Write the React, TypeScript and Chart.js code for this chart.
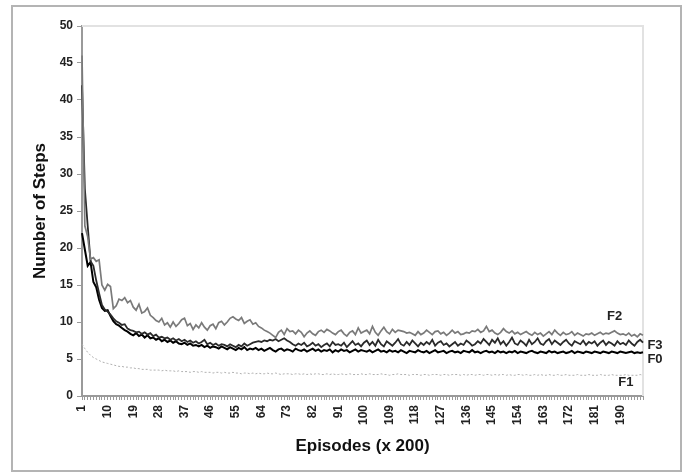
import React, { useEffect, useRef } from "react";
import { Chart, registerables } from "chart.js";

Chart.register(...registerables);

const categories: string[] = Array.from({ length: 198 }, (_, i) => String(i + 1));
const shownTickLabels: string[] = ["1", "10", "19", "28", "37", "46", "55", "64", "73", "82", "91", "100", "109", "118", "127", "136", "145", "154", "163", "172", "181", "190"];
const yTicks: number[] = [0, 5, 10, 15, 20, 25, 30, 35, 40, 45, 50];

const f0: number[] = [
  22, 19.8, 17.6, 18.1, 15.4, 14.7, 13.0, 11.9, 11.5, 11.6,
  10.8, 10.1, 9.7, 9.5, 9.2, 8.9, 8.7, 8.4, 8.2, 8.5,
  8.1, 8.3, 7.9, 8.2, 7.8, 7.9, 7.6, 7.8, 7.4, 7.6,
  7.3, 7.5, 7.2, 7.4, 7.1, 7.0, 7.2, 6.9, 7.1, 6.8,
  6.9, 6.7, 6.9, 6.6, 6.8, 6.5, 6.7, 6.6, 6.4, 6.7,
  6.5, 6.3, 6.6, 6.4, 6.2, 6.5, 6.3, 6.6, 6.2, 6.4,
  6.3, 6.5, 6.2, 6.4, 6.1, 6.3, 6.5, 6.2, 6.0, 6.3,
  6.4, 6.1, 6.3, 6.2, 6.0, 6.4, 6.2, 6.1, 6.3, 6.0,
  6.2, 6.4, 6.1, 6.3, 6.0, 6.2, 6.1, 6.3, 5.9, 6.2,
  6.0, 6.3, 6.1, 6.2, 5.9, 6.1, 6.3, 6.0, 6.2, 6.1,
  6.0, 6.2, 5.9, 6.1, 6.3, 6.0, 6.1, 5.9, 6.2, 6.0,
  6.1, 5.9, 6.2, 6.0, 5.8, 6.1, 6.0, 5.9, 6.2, 6.0,
  5.9, 6.1, 5.8, 6.0, 6.2, 5.9, 6.0, 6.1, 5.8, 6.0,
  6.1, 5.9, 6.0, 5.8, 6.1, 6.0, 5.9, 6.2, 5.9, 6.0,
  5.8, 6.0, 6.1, 5.9, 6.0, 5.8, 6.1, 5.9, 6.0, 5.8,
  6.0, 5.9, 6.1, 5.8, 6.0, 5.9, 5.8, 6.0, 6.1, 5.9,
  5.8, 6.0, 5.9, 5.8, 6.1, 5.9, 6.0, 5.8, 5.9, 6.0,
  5.8, 5.9, 6.1, 5.8, 6.0, 5.9, 5.8, 6.0, 5.9, 5.8,
  6.0, 5.9, 5.8, 6.0, 5.9, 5.8, 6.0, 5.9, 5.8, 6.0,
  5.9, 5.8, 5.9, 6.0, 5.8, 5.9, 5.8, 5.9,
];

const f1: number[] = [
  7.0, 6.4, 5.9, 5.5, 5.2, 5.0, 4.8, 4.6, 4.5, 4.4,
  4.3, 4.2, 4.1, 4.0, 4.0, 3.9, 3.9, 3.8, 3.8, 3.7,
  3.7, 3.6, 3.6, 3.6, 3.5, 3.5, 3.5, 3.5, 3.4, 3.5,
  3.4, 3.4, 3.4, 3.3, 3.4, 3.3, 3.3, 3.3, 3.2, 3.3,
  3.3, 3.2, 3.3, 3.2, 3.2, 3.2, 3.1, 3.2, 3.2, 3.1,
  3.2, 3.1, 3.1, 3.2, 3.1, 3.1, 3.0, 3.1, 3.1, 3.0,
  3.1, 3.0, 3.1, 3.0, 3.0, 3.1, 3.0, 3.0, 3.1, 3.0,
  2.9, 3.0, 3.0, 3.0, 2.9, 3.0, 3.0, 2.9, 3.0, 2.9,
  3.0, 2.9, 3.0, 3.0, 2.9, 2.9, 3.0, 2.9, 3.0, 2.9,
  2.9, 3.0, 2.9, 2.9, 3.0, 2.9, 2.9, 2.9, 3.0, 2.9,
  2.9, 3.0, 2.9, 2.9, 2.9, 3.0, 2.9, 2.9, 2.8, 2.9,
  2.9, 3.0, 2.9, 2.9, 2.9, 2.8, 2.9, 2.9, 2.9, 2.8,
  2.9, 2.9, 2.8, 2.9, 2.9, 2.9, 2.8, 2.9, 2.9, 2.8,
  2.9, 2.9, 2.9, 2.8, 2.9, 2.8, 2.9, 2.9, 2.8, 2.9,
  2.9, 2.8, 2.9, 2.9, 2.8, 2.9, 2.8, 2.9, 2.9, 2.8,
  2.9, 2.8, 2.8, 2.9, 2.9, 2.8, 2.9, 2.8, 2.8, 2.9,
  2.8, 2.9, 2.8, 2.8, 2.9, 2.8, 2.8, 2.9, 2.8, 2.8,
  2.9, 2.8, 2.8, 2.8, 2.9, 2.8, 2.8, 2.8, 2.9, 2.8,
  2.8, 2.8, 2.9, 2.8, 2.8, 2.8, 2.9, 2.8, 2.8, 2.8,
  2.8, 2.9, 2.8, 2.8, 2.8, 2.8, 2.9, 2.8,
];

const f2: number[] = [
  46, 23, 21.5, 18.5, 18.7, 18.2, 18.4, 15, 14.3, 15.1,
  14.8, 11.8, 12.2, 13.1, 12.9, 13.3, 12.6, 12.9, 12.0, 11.6,
  12.4, 11.2, 11.4, 11.9, 10.9, 10.6, 10.2, 10.0, 10.5, 9.6,
  9.9, 9.3, 10.0, 9.4, 9.8, 10.3, 10.5, 9.5, 9.8, 9.0,
  9.6, 9.2, 9.9, 9.3, 8.9, 9.5, 9.7, 9.1, 9.9, 10.1,
  9.6, 10.0, 10.5, 10.7, 10.4, 10.2, 10.6, 9.8, 10.1, 10.3,
  9.7, 9.9, 9.4, 9.2, 8.9, 8.7, 8.5, 8.2, 7.9, 8.6,
  8.9, 8.3, 9.1, 8.7, 8.8, 8.4, 8.9, 8.6, 8.0, 8.5,
  8.8, 8.4, 8.2, 8.7, 8.9, 8.6, 9.0, 8.8, 8.5, 8.3,
  8.7, 8.9, 8.4, 8.1, 8.6, 8.8, 8.3, 9.2, 8.5, 8.7,
  8.9, 8.4, 9.4, 8.6, 8.2, 8.8, 9.3, 8.7, 8.4, 9.0,
  8.6, 8.9, 8.8, 8.7, 8.5, 8.6, 8.4, 8.2, 8.7, 8.3,
  8.5, 8.9, 8.6, 8.3, 8.7, 8.8, 8.4, 8.6, 8.2, 8.5,
  8.9, 8.5, 8.7, 8.3, 8.4, 8.6, 8.5, 8.8, 8.7, 9.0,
  8.6, 8.8, 9.4, 8.7, 8.9, 8.5, 8.3, 8.6, 9.1, 8.7,
  8.5, 8.8, 8.4, 8.6, 8.3, 8.5, 8.7, 8.4, 8.2, 8.6,
  8.3, 8.5, 8.1, 8.4, 8.7, 8.3, 8.9, 8.5, 8.2, 8.6,
  8.3, 8.4, 8.7, 8.2, 8.5, 8.3, 8.1, 8.4, 8.3, 8.5,
  8.2, 8.4, 8.6, 8.3, 8.5, 8.4, 8.6, 8.8, 8.5, 8.3,
  8.4, 8.2, 8.5, 8.1, 8.3, 8.0, 8.4, 8.2,
];

const f3: number[] = [
  42, 28, 23, 18.2, 17.6, 15.6, 13.9, 12.3, 11.7, 11.4,
  11.0, 10.5, 10.1, 9.9, 9.6, 9.7, 9.1, 8.9, 8.8, 8.6,
  8.7, 8.4, 8.6, 8.3, 8.5, 8.1, 8.3, 7.9, 8.0, 7.8,
  7.9, 7.6, 7.8, 7.5, 7.7, 7.4, 7.6, 7.3, 7.5, 7.2,
  7.4, 7.1, 7.3, 7.6, 7.0, 7.2, 6.9, 7.1, 6.8, 7.0,
  6.9, 6.7, 7.0, 6.8, 6.6, 6.9, 6.7, 7.1, 6.8, 7.0,
  7.2, 7.3, 7.4, 7.3, 7.5, 7.4, 7.6, 7.5, 7.7, 7.4,
  7.6, 7.8, 7.5, 7.3, 7.0, 6.8, 7.1, 6.9, 7.2, 6.7,
  6.9, 7.2, 6.8, 7.0, 6.6, 6.9, 7.1, 6.7, 7.3, 6.9,
  7.0, 6.8, 7.2, 6.6, 7.0, 7.4, 6.9, 7.1, 6.7, 7.2,
  7.5, 6.9, 7.3, 6.8, 7.6, 7.0, 6.7, 7.4, 7.1, 6.8,
  7.2, 7.7, 7.0, 6.8, 7.3, 6.9, 7.5, 7.1, 6.7, 7.2,
  6.9, 7.3, 7.0, 7.6, 6.8, 7.2, 7.4, 6.9, 7.1, 6.7,
  7.0, 7.3, 6.8, 7.1, 6.9, 7.5, 7.2, 6.8, 7.0, 7.4,
  7.1, 7.7, 7.3, 6.9, 7.6, 7.2, 7.8, 7.0, 7.4, 6.8,
  7.3, 7.9, 7.1, 6.9, 7.5, 7.2, 6.8, 7.6, 7.0, 7.3,
  7.8, 7.1, 6.9, 7.4, 7.7, 7.0, 7.5, 7.2, 6.9, 7.3,
  7.6, 7.1, 6.8, 7.4, 7.2, 7.0, 7.5, 6.9, 7.3, 7.1,
  7.4, 6.8, 7.2, 7.5, 6.9, 7.3, 7.1, 6.8, 7.4, 7.0,
  7.2, 6.9, 7.5, 7.1, 6.8, 7.3, 7.6, 7.2,
];

const seriesNames: string[] = ["F0", "F1", "F2", "F3"];
const xTitle = "Episodes (x 200)";
const yTitle = "Number of Steps";

const FONT = "'Liberation Sans', Arial, sans-serif";

const decorPlugin = {
  id: "decor",
  beforeDraw(chart: any) {
    const ctx = chart.ctx;
    ctx.save();
    ctx.fillStyle = "#ffffff";
    ctx.fillRect(0, 0, chart.width, chart.height);
    ctx.strokeStyle = "#b4b4b4";
    ctx.lineWidth = 2;
    ctx.strokeRect(12, 6, 669, 465);
    ctx.restore();
  },
  beforeDatasetsDraw(chart: any) {
    const { ctx, chartArea } = chart;
    ctx.save();
    ctx.strokeStyle = "#e2e2e2";
    ctx.lineWidth = 2;
    ctx.beginPath();
    ctx.moveTo(chartArea.left, chartArea.top);
    ctx.lineTo(chartArea.right, chartArea.top);
    ctx.lineTo(chartArea.right, chartArea.bottom);
    ctx.stroke();
    ctx.restore();
  },
  afterDraw(chart: any) {
    const { ctx, chartArea, scales } = chart;
    const x = scales.x;
    const y = scales.y;
    ctx.save();
    ctx.fillStyle = "#222";
    ctx.font = `bold 13px ${FONT}`;
    ctx.textAlign = "center";
    ctx.textBaseline = "middle";
    ctx.fillText(seriesNames[2], x.getPixelForValue(187), y.getPixelForValue(10.8));
    ctx.fillText(seriesNames[3], chartArea.right + 12, y.getPixelForValue(6.8));
    ctx.fillText(seriesNames[0], chartArea.right + 12, y.getPixelForValue(4.9));
    ctx.fillText(seriesNames[1], x.getPixelForValue(191), y.getPixelForValue(1.8));
    ctx.restore();
  },
};

export default function App() {
  const ref = useRef<HTMLCanvasElement | null>(null);

  useEffect(() => {
    if (!ref.current) return;
    const chart = new Chart(ref.current, {
      type: "line",
      data: {
        labels: categories,
        datasets: [
          { label: seriesNames[1], data: f1, borderColor: "#b0b0b0", borderWidth: 1, borderDash: [2, 2], pointRadius: 0, tension: 0 },
          { label: seriesNames[2], data: f2, borderColor: "#7a7a7a", borderWidth: 1.7, pointRadius: 0, tension: 0 },
          { label: seriesNames[3], data: f3, borderColor: "#2a2a2a", borderWidth: 1.8, pointRadius: 0, tension: 0 },
          { label: seriesNames[0], data: f0, borderColor: "#000000", borderWidth: 2, pointRadius: 0, tension: 0 },
        ],
      },
      options: {
        animation: false,
        responsive: true,
        maintainAspectRatio: false,
        layout: { padding: { top: 26, right: 46, bottom: 0, left: 0 } },
        plugins: { legend: { display: false }, tooltip: { enabled: false } },
        scales: {
          x: {
            type: "category",
            offset: false,
            grid: { display: true, drawOnChartArea: false, drawTicks: true, tickLength: 4, color: "#9a9a9a", offset: false },
            border: { display: true, color: "#9a9a9a", width: 2 },
            ticks: {
              autoSkip: false,
              minRotation: 90,
              maxRotation: 90,
              padding: 5,
              color: "#222",
              font: { family: FONT, size: 12, weight: "bold" },
              callback: (_v: any, i: number) => (shownTickLabels.includes(categories[i]) ? categories[i] : ""),
            },
            title: {
              display: true,
              text: xTitle,
              color: "#111",
              font: { family: FONT, size: 17, weight: "bold" },
              padding: { top: 4, bottom: 16 },
            },
            afterFit: (s: any) => {
              s.height = 77;
            },
          },
          y: {
            min: 0,
            max: 50,
            afterBuildTicks: (s: any) => {
              s.ticks = yTicks.map((v) => ({ value: v }));
            },
            grid: { display: true, drawOnChartArea: false, drawTicks: true, tickLength: 5, color: "#9a9a9a" },
            border: { display: true, color: "#9a9a9a", width: 2 },
            ticks: {
              padding: 4,
              color: "#222",
              font: { family: FONT, size: 12, weight: "bold" },
            },
            title: {
              display: true,
              text: yTitle,
              color: "#111",
              font: { family: FONT, size: 17, weight: "bold" },
              padding: { top: 30, bottom: 4 },
            },
            afterFit: (s: any) => {
              s.width = 82;
            },
          },
        },
      },
      plugins: [decorPlugin],
    });
    return () => chart.destroy();
  }, []);

  return (
    <div style={{ position: "absolute", left: 0, top: 0, width: 689, height: 473 }}>
      <canvas ref={ref} />
    </div>
  );
}
